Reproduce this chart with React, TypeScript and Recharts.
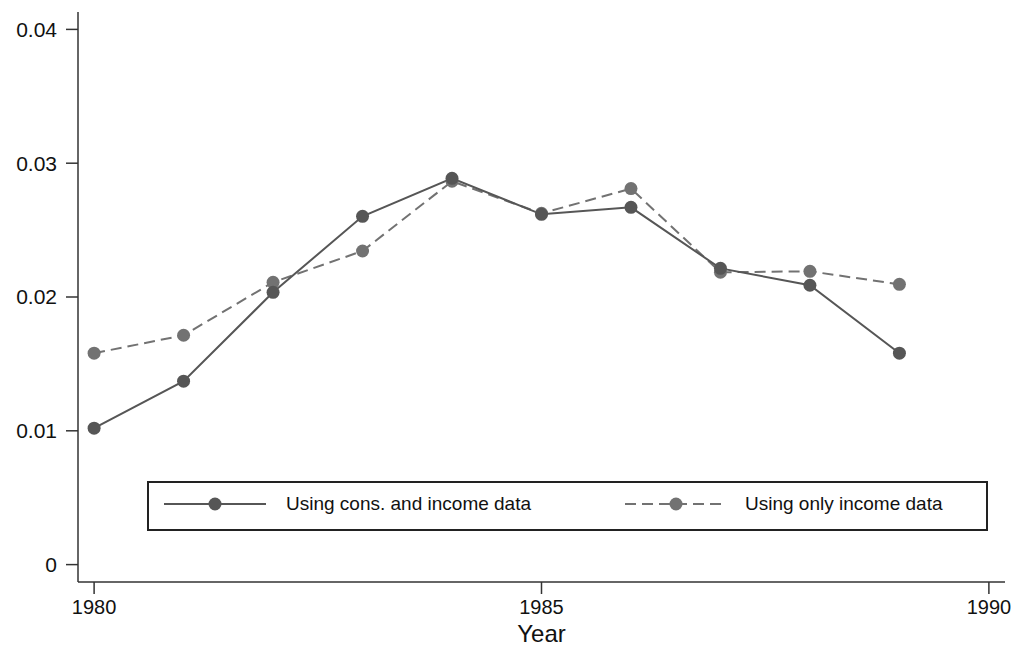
import { LineChart, Line, XAxis, YAxis, Legend } from "recharts";

const years = [1980, 1981, 1982, 1983, 1984, 1985, 1986, 1987, 1988, 1989];
const consIncome = [0.0102, 0.01371, 0.02035, 0.02603, 0.02887, 0.02618, 0.0267, 0.02214, 0.02088, 0.0158];
const incomeOnly = [0.0158, 0.01714, 0.0211, 0.02344, 0.02865, 0.02625, 0.0281, 0.02185, 0.02192, 0.02095];
const xTicks = [1980, 1985, 1990];
const yTicks = [0, 0.01, 0.02, 0.03, 0.04];

const data = years.map((year, i) => ({
  year,
  consIncome: consIncome[i],
  incomeOnly: incomeOnly[i],
}));

const FONT = "'Liberation Sans', Arial, Helvetica, sans-serif";
const SOLID = "#565656";
const DASHED = "#727272";

function LegendBox() {
  const sample = (x1: number, color: string, dash?: string) => (
    <svg
      width={104}
      height={16}
      style={{ position: "absolute", left: x1, top: 13 }}
    >
      <line x1={1} y1={8} x2={103} y2={8} stroke={color} strokeWidth={2} strokeDasharray={dash} />
      <circle cx={52} cy={8} r={6.5} fill={color} />
    </svg>
  );
  return (
    <div
      style={{
        position: "relative",
        boxSizing: "border-box",
        width: 841,
        height: 50,
        border: "2px solid #222",
        background: "#fff",
        fontFamily: FONT,
        fontSize: 19,
        color: "#111",
      }}
    >
      {sample(14, SOLID)}
      <span style={{ position: "absolute", left: 137, top: 10, whiteSpace: "nowrap" }}>
        Using cons. and income data
      </span>
      {sample(475, DASHED, "11 6")}
      <span style={{ position: "absolute", left: 596, top: 10, whiteSpace: "nowrap" }}>
        Using only income data
      </span>
    </div>
  );
}

export default function App() {
  return (
    <div style={{ position: "absolute", left: 0, top: 0, background: "#fff" }}>
      <LineChart
        width={1015}
        height={646}
        data={data}
        margin={{ top: 12, right: 10, left: 8, bottom: 0 }}
        style={{ fontFamily: FONT }}
      >
        <XAxis
          type="number"
          dataKey="year"
          domain={[1979.82, 1990.18]}
          ticks={xTicks}
          allowDataOverflow
          height={64}
          tickSize={12}
          tickMargin={6}
          stroke="#333"
          strokeWidth={1.5}
          tick={{ fill: "#111", fontSize: 20 }}
          label={{ value: "Year", position: "insideBottom", offset: 4, fill: "#111", fontSize: 24 }}
        />
        <YAxis
          type="number"
          domain={[-0.0013, 0.0413]}
          ticks={yTicks}
          allowDataOverflow
          width={70}
          tickSize={12}
          tickMargin={9}
          stroke="#333"
          strokeWidth={1.5}
          tick={{ fill: "#111", fontSize: 21 }}
          tickFormatter={(v: number) => (v === 0 ? "0" : v.toFixed(2))}
        />
        <Legend
          layout="horizontal"
          verticalAlign="middle"
          align="center"
          content={() => <LegendBox />}
          wrapperStyle={{ position: "absolute", left: 147, top: 481, width: 841, height: 50 }}
        />
        <Line
          dataKey="incomeOnly"
          stroke={DASHED}
          strokeWidth={2}
          strokeDasharray="11 6"
          dot={{ r: 6.5, fill: DASHED, stroke: "none" }}
          isAnimationActive={false}
        />
        <Line
          dataKey="consIncome"
          stroke={SOLID}
          strokeWidth={2}
          dot={{ r: 6.5, fill: SOLID, stroke: "none" }}
          isAnimationActive={false}
        />
      </LineChart>
    </div>
  );
}
